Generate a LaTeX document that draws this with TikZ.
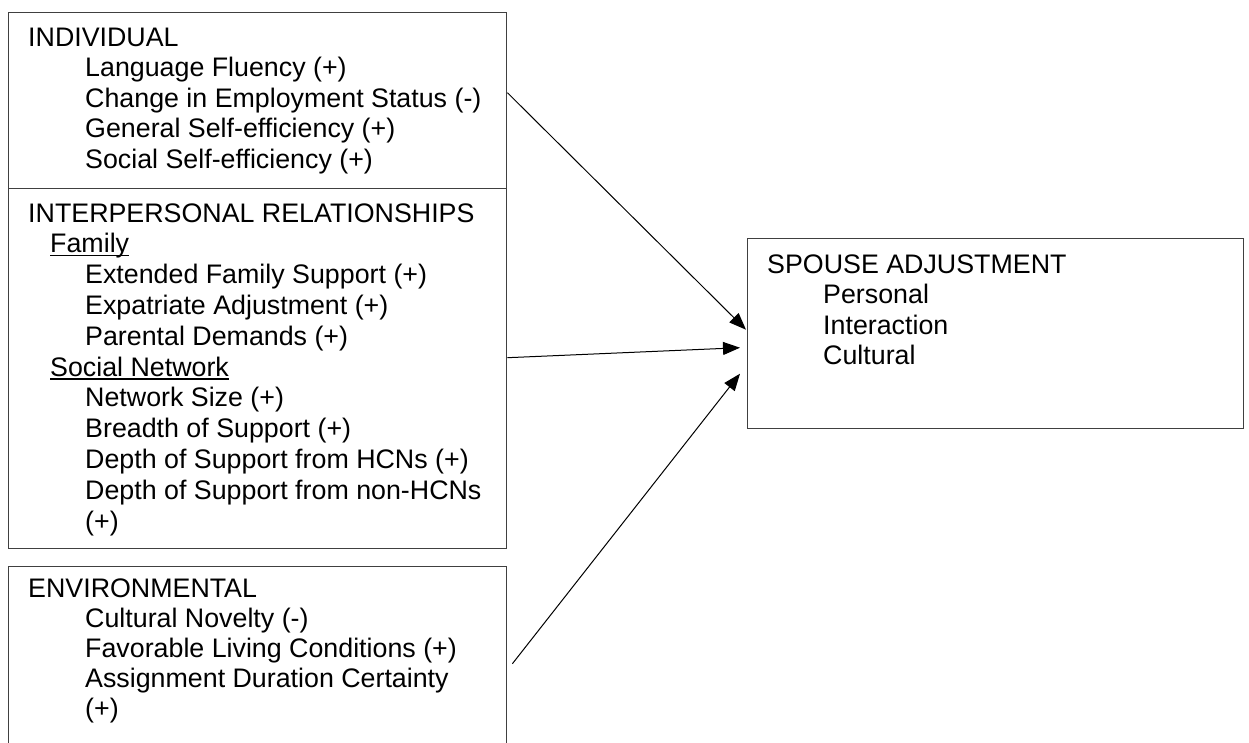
\documentclass[tikz,border=0pt]{standalone}
\usepackage{fontspec}
\setmainfont{Liberation Sans}
\usetikzlibrary{arrows.meta}

\tikzset{
  box/.style={draw=black!75, line width=1.4pt, anchor=north west, inner sep=0pt},
  txt/.style={anchor=base west, inner sep=0pt, font=\fontsize{26.8}{30}\selectfont},
  arr/.style={-{Triangle[length=17pt,width=13pt]}, line width=1pt},
  uline/.style={line width=1.3pt}
}

\begin{document}
\begin{tikzpicture}[x=1pt,y=-1pt]
    \useasboundingbox (0,0) rectangle (1249,742);

    % factor boxes
    \node[box, minimum width=498pt, minimum height=176pt] (indiv) at (8,12) {};
    \node[box, minimum width=498pt, minimum height=360pt] (inter) at (8,188) {};
    \node[box, minimum width=498pt, minimum height=194pt] (env) at (8,566) {};
    \node[box, minimum width=496pt, minimum height=190pt] (spouse) at (747,238) {};

    % individual
    \foreach \txt/\xx/\yy [count=\k] in {INDIVIDUAL/28/46,
        Language Fluency (+)/85/76.5, Change in Employment Status (-)/85/107,
        General Self-efficiency (+)/85/137.5, Social Self-efficiency (+)/85/168}
        \node[txt] (ind\k) at (\xx,\yy) {\txt};

    % interpersonal relationships
    \foreach \txt/\xx/\yy [count=\k] in {INTERPERSONAL RELATIONSHIPS/28/222,
        Family/50/252.8, Extended Family Support (+)/85/283.6,
        Expatriate Adjustment (+)/85/314.4, Parental Demands (+)/85/345.2,
        Social Network/50/376, Network Size (+)/85/406.8,
        Breadth of Support (+)/85/437.6, Depth of Support from HCNs (+)/85/468.4,
        Depth of Support from non-HCNs/85/499.2, (+)/85/530}
        \node[txt] (rel\k) at (\xx,\yy) {\txt};
    \draw[uline] ([yshift=-3pt]rel2.base west) -- ([yshift=-3pt]rel2.base east);
    \draw[uline] ([yshift=-3pt]rel6.base west) -- ([yshift=-3pt]rel6.base east);

    % environmental
    \foreach \txt/\xx/\yy [count=\k] in {ENVIRONMENTAL/28/597,
        Cultural Novelty (-)/85/627, Favorable Living Conditions (+)/85/657,
        Assignment Duration Certainty/85/687, (+)/85/717}
        \node[txt] (envi\k) at (\xx,\yy) {\txt};

    % outcome
    \foreach \txt/\xx/\yy [count=\k] in {SPOUSE ADJUSTMENT/767/273,
        Personal/823/303.5, Interaction/823/334, Cultural/823/364.5}
        \node[txt] (sp\k) at (\xx,\yy) {\txt};

    % effects
    \draw[arr] ([yshift=8pt]indiv.east) -- ([xshift=-1pt,yshift=4pt]spouse.west);
    \draw[arr] ([yshift=11pt]inter.east) -- ([xshift=-7pt,yshift=-14pt]spouse.west);
    \draw[arr] ([xshift=5pt]env.east) -- ([xshift=-7pt,yshift=-40pt]spouse.west);
\end{tikzpicture}
\end{document}
